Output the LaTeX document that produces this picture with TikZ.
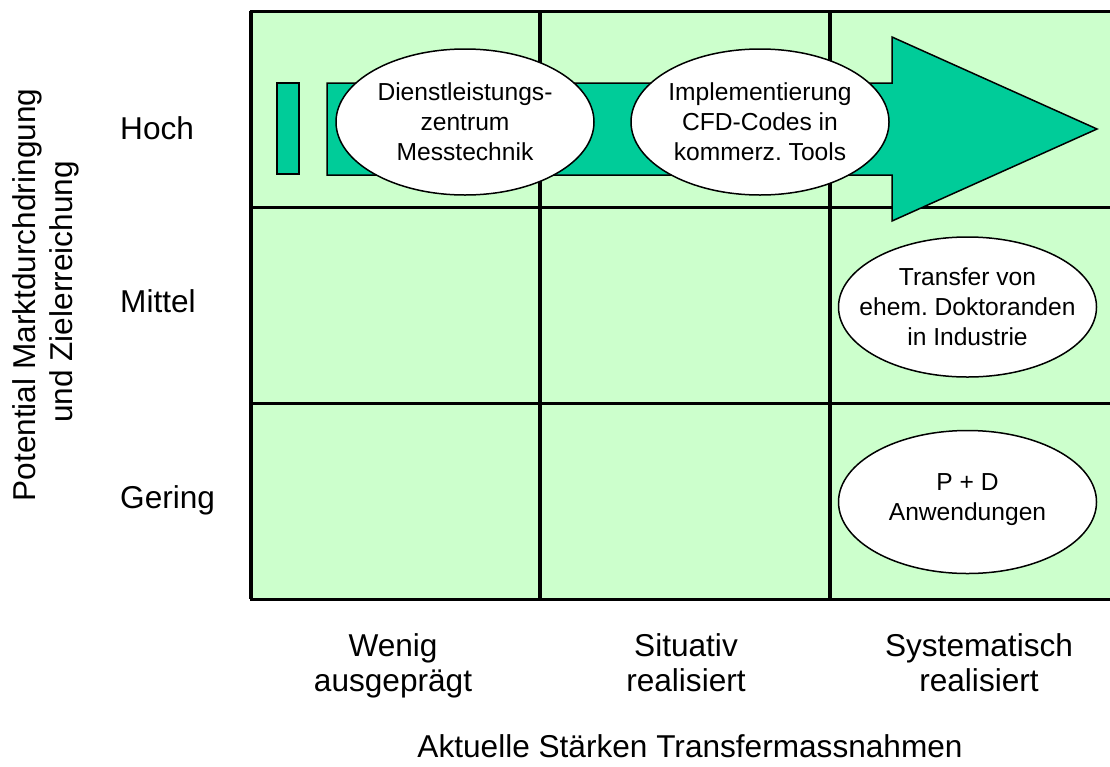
\documentclass[tikz,border=0pt]{standalone}
\usepackage{fontspec}
\setmainfont{Liberation Sans}
\usetikzlibrary{shapes.geometric}
\definecolor{cellgreen}{HTML}{CCFFCC}
\definecolor{arrowgreen}{HTML}{00CC99}
\frenchspacing
\begin{document}
\begin{tikzpicture}[x=1pt,y=-1pt,
  lbl/.style={font=\fontsize{31.6}{35}\selectfont, inner sep=0pt, anchor=base},
  rowlbl/.style={font=\fontsize{31.6}{35}\selectfont, inner sep=0pt, anchor=base west},
  bubble/.style={ellipse, draw=black, line width=1.5pt, fill=white, inner sep=0pt,
    minimum width=258pt, minimum height=146pt},
  bubbletext/.style={inner sep=0pt, align=center, font=\fontsize{24.6}{30}\selectfont},
  hline/.style={line width=3pt},
  vline/.style={line width=3.5pt},
  arrowshape/.style={fill=arrowgreen, draw=black, line width=1.5pt, line join=miter}
  ]
\useasboundingbox (0,0) rectangle (1110,766);
\clip (0,0) rectangle (1110,766);
% cells
\fill[cellgreen] (251,11) rectangle (1125,599);
\foreach \yy in {11,207,403,599} \draw[hline] (249.5,\yy) -- (1125,\yy);
\foreach \xx in {251,540,830} \draw[vline] (\xx,11) -- (\xx,599);
% arrow
\draw[arrowshape] (277,83) rectangle (299,174);
\draw[arrowshape] (327,83) -- (892,83) -- (892,37) -- (1097,129) -- (892,221) -- (892,175) -- (327,175) -- cycle;
% ellipses
\node[bubble] (e1) at (465,122) {};
\node[bubbletext] (t1) at (e1.center) {Dienstleistungs-\\zentrum\\Messtechnik};
\node[bubble] (e2) at (760,122) {};
\node[bubbletext] (t2) at (e2.center) {Implementierung\\CFD-Codes in\\kommerz. Tools};
\node[bubble, minimum height=140pt] (e3) at (967.5,307) {};
\node[bubbletext] (t3) at (e3.center) {Transfer von\\ehem. Doktoranden\\in Industrie};
\node[bubble, minimum height=143pt] (e4) at (967.5,502) {};
\node[bubbletext] (t4) at ([yshift=2pt]e4.center) {P + D\\Anwendungen};
% row labels
\node[rowlbl] (hoch) at (120,139.5) {Hoch};
\node[rowlbl] (mittel) at (120,312) {Mittel};
\node[rowlbl] (gering) at (120,508) {Gering};
% column labels
\node[lbl] (c1a) at (393,656.7) {Wenig};
\node[lbl] (c1b) at (393,691) {ausgeprägt};
\node[lbl] (c2a) at (686,656.7) {Situativ};
\node[lbl] (c2b) at (686,691) {realisiert};
\node[lbl] (c3a) at (979,656.7) {Systematisch};
\node[lbl] (c3b) at (979,691) {realisiert};
% axis titles
\node[lbl] (xt) at (690,757) {Aktuelle Stärken Transfermassnahmen};
\node[lbl, rotate=90] (yt1) at (35,295) {Potential Marktdurchdringung};
\node[lbl, rotate=90] (yt2) at (72,292) {und Zielerreichung};
\end{tikzpicture}
\end{document}
